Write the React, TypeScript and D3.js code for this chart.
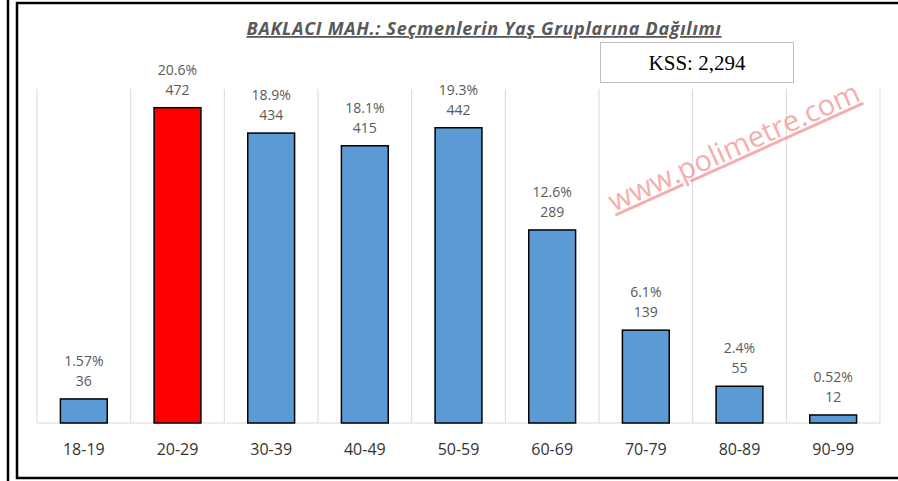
import React from "react";
import * as d3 from "d3";

const categories = ["18-19", "20-29", "30-39", "40-49", "50-59", "60-69", "70-79", "80-89", "90-99"];
const counts = [36, 472, 434, 415, 442, 289, 139, 55, 12];
const percents = ["1.57%", "20.6%", "18.9%", "18.1%", "19.3%", "12.6%", "6.1%", "2.4%", "0.52%"];
const highlight = ["20-29"];
const title = "BAKLACI MAH.: Seçmenlerin Yaş Gruplarına Dağılımı";
const kssLabel = "KSS: 2,294";
const watermark = "www.polimetre.com";

const W = 898;
const H = 481;
const plot = { left: 37, right: 880, top: 89, bottom: 423 };

export default function App() {
  const x = d3.scaleBand<string>().domain(categories).range([plot.left, plot.right]).paddingInner(0).paddingOuter(0);
  const y = d3.scaleLinear().domain([0, 500]).range([plot.bottom, plot.top]);
  const bw = x.bandwidth() * 0.5;
  const font = "'Open Sans', 'Noto Sans', sans-serif";

  return (
    <svg width={W} height={H} style={{ position: "absolute", left: 0, top: 0, background: "#fff" }}>
      <rect x={0} y={0} width={W} height={H} fill="#fff" />
      {/* outer frames */}
      <line x1={8} y1={0} x2={8} y2={H} stroke="#000" strokeWidth={2.5} />
      <rect x={17} y={3} width={W + 10} height={475} fill="none" stroke="#000" strokeWidth={2.5} />

      {/* gridlines */}
      {categories.map((c) => (
        <line key={"g" + c} x1={x(c)!} x2={x(c)!} y1={plot.top} y2={plot.bottom} stroke="#d9d9d9" strokeWidth={1} />
      ))}
      <line x1={plot.right} x2={plot.right} y1={plot.top} y2={plot.bottom} stroke="#d9d9d9" strokeWidth={1} />
      <line x1={plot.left} x2={plot.right} y1={plot.bottom} y2={plot.bottom} stroke="#d9d9d9" strokeWidth={1} />

      {/* title */}
      <text x={484} y={35} textAnchor="middle" fontFamily={font} fontSize={18} fontWeight="bold" fontStyle="italic" fill="#595959" textDecoration="underline" letterSpacing={0.7}>
        {title}
      </text>

      {/* KSS box */}
      <rect x={600.5} y={42.5} width={193} height={40} fill="#fff" stroke="#bfbfbf" strokeWidth={1} />
      <text x={697} y={70} textAnchor="middle" fontFamily="'Liberation Serif', 'DejaVu Serif', serif" fontSize={21} fill="#000">
        {kssLabel}
      </text>

      {/* bars */}
      {categories.map((c, i) => {
        const cx = x(c)! + x.bandwidth() / 2;
        const top = y(counts[i]);
        return (
          <g key={c}>
            <rect
              x={cx - bw / 2}
              y={top}
              width={bw}
              height={plot.bottom - top}
              fill={highlight.includes(c) ? "#FF0000" : "#5B9BD5"}
              stroke="#000"
              strokeWidth={1.5}
            />
            <text x={cx} y={top - 13} textAnchor="middle" fontFamily={font} fontSize={14} fill="#595959">
              {counts[i]}
            </text>
            <text x={cx} y={top - 33} textAnchor="middle" fontFamily={font} fontSize={14} fill="#595959">
              {percents[i]}
            </text>
            <text x={cx} y={455} textAnchor="middle" fontFamily={font} fontSize={16} fill="#333333">
              {c}
            </text>
          </g>
        );
      })}

      {/* watermark */}
      <g transform="translate(738,156) rotate(-24.3)" opacity={0.6}>
        <text x={0} y={0} textAnchor="middle" fontFamily={font} fontSize={29} fill="#f07878" textDecoration="underline">
          {watermark}
        </text>
      </g>
    </svg>
  );
}
